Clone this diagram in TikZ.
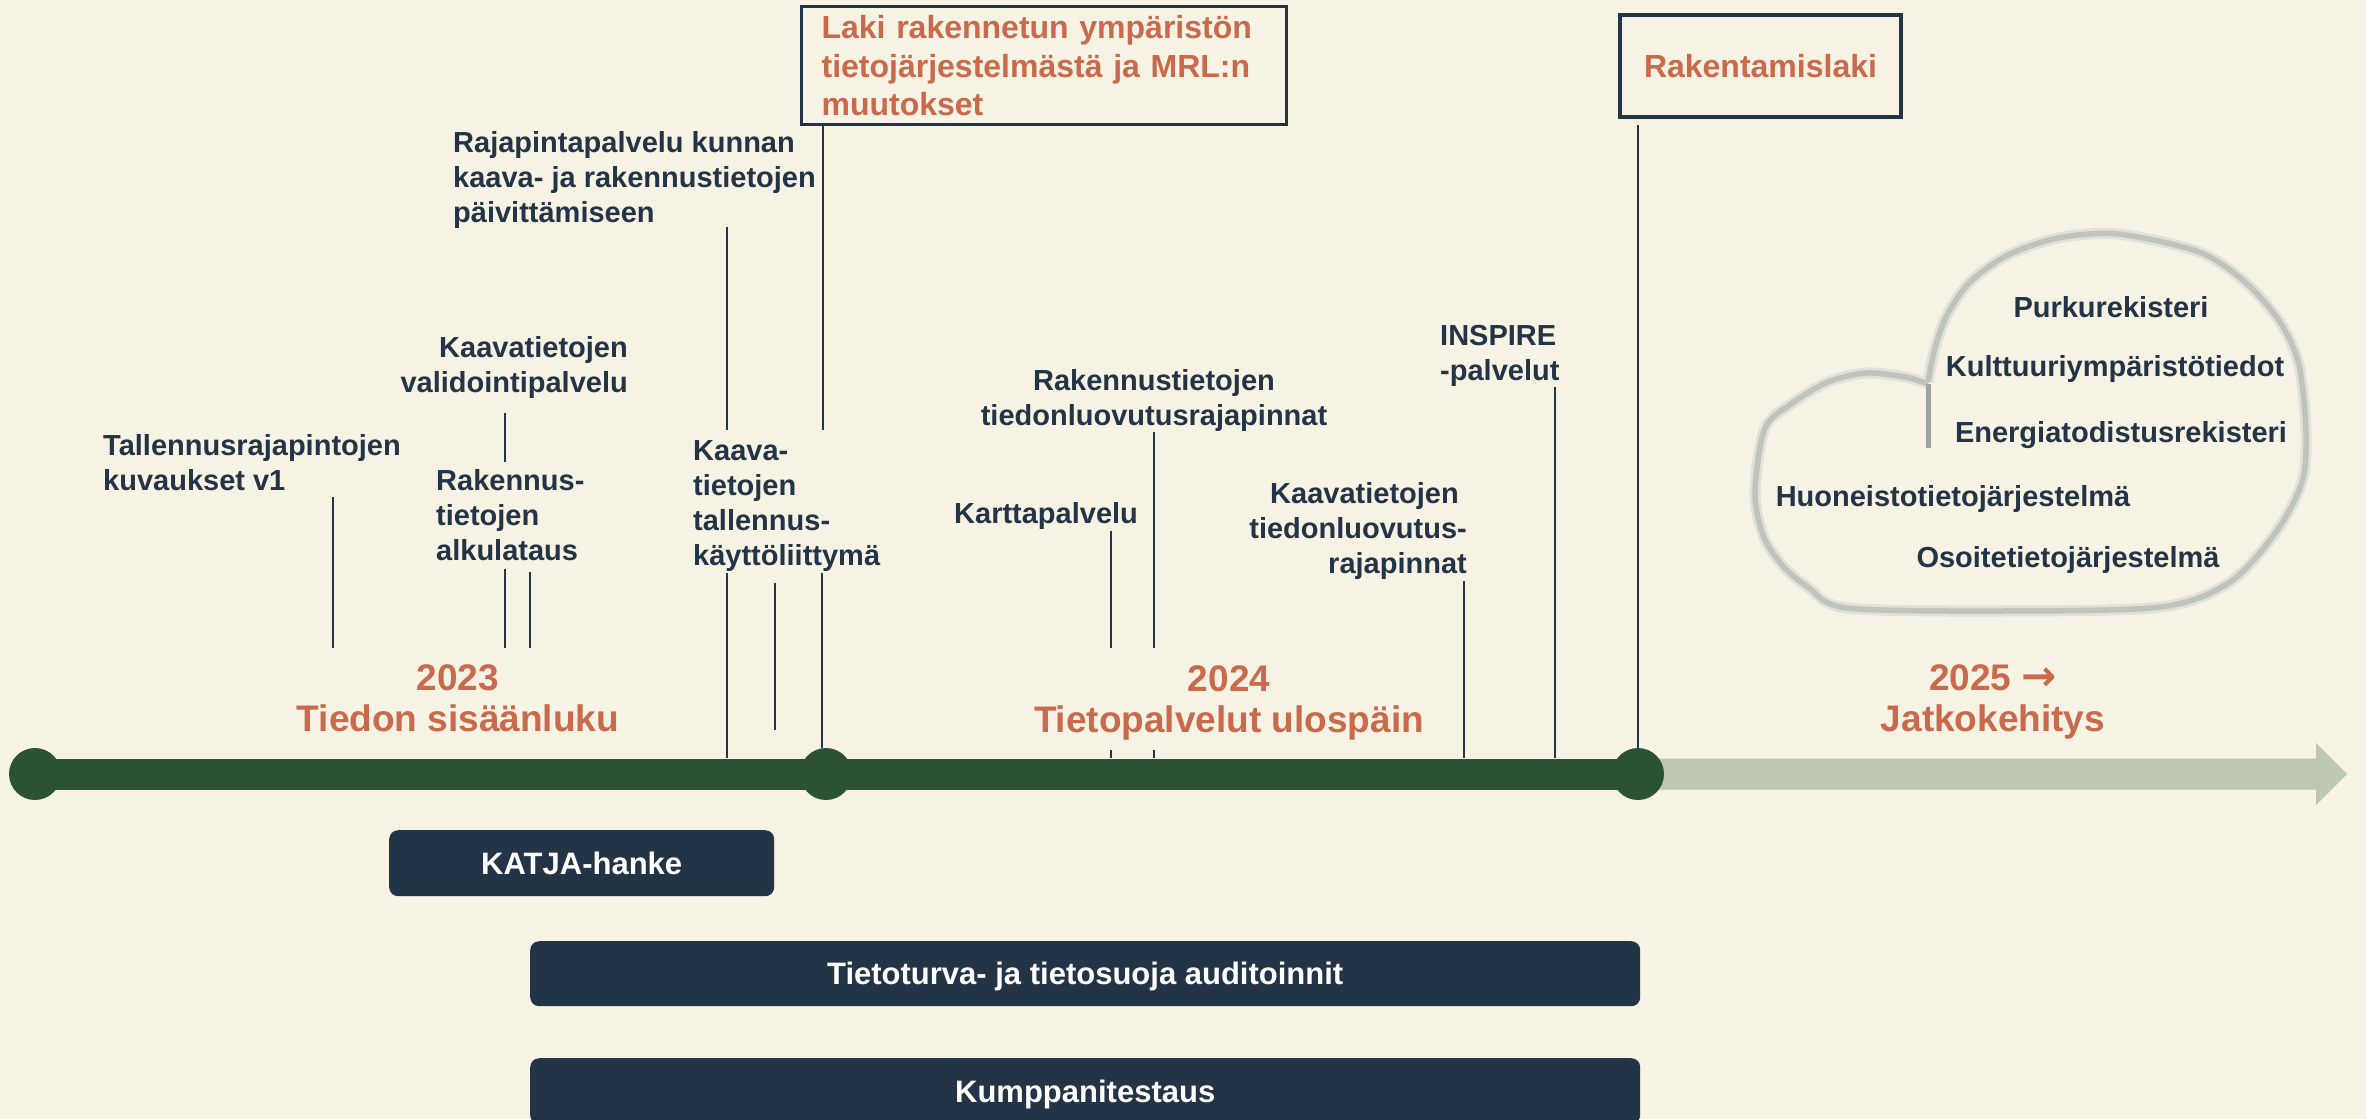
\documentclass[tikz,border=0pt]{standalone}
\usepackage{fontspec}
\setmainfont{Liberation Sans}
\newfontfamily\arrowfont{DejaVu Sans}
\usetikzlibrary{calc}
\definecolor{bg}{HTML}{F6F2E4}
\definecolor{navy}{HTML}{243447}
\definecolor{rust}{HTML}{C86A4B}
\definecolor{forest}{HTML}{2C5234}
\definecolor{sage}{HTML}{BEC7B4}
\definecolor{cloudcore}{HTML}{C0C3BB}
\definecolor{cloudhalo}{HTML}{E0E1D7}
\definecolor{clouddark}{HTML}{9CA3A0}
\begin{document}
\begin{tikzpicture}[x=1pt,y=-1pt,
  lbl/.style={font=\bfseries\fontsize{29}{35}\selectfont, text=navy, inner sep=0pt},
  yr/.style={font=\bfseries\fontsize{37}{41}\selectfont, text=rust, inner sep=0pt, align=center},
  lawbox/.style={draw=navy, line width=3.2pt, fill=bg},
  lawtxt/.style={font=\bfseries\fontsize{32}{38.5}\selectfont, text=rust},
  barbox/.style={fill=navy, rounded corners=9pt, inner sep=0pt, text height=22.2pt, text depth=0pt,
                 font=\bfseries\fontsize{31}{36}\selectfont, text=white},
  tick/.style={draw=navy, line width=2.8pt},
  dot/.style={circle, fill=forest, minimum size=52pt, inner sep=0pt},
]
\useasboundingbox (0,0) rectangle (2366,1119);
\fill[bg] (0,0) rectangle (2366,1119);

% ---------- timeline ----------
\coordinate (t0) at (35,774);
\coordinate (t1) at (826,774);
\coordinate (t2) at (1638,774);
\coordinate (tip) at (2347,774);
\fill[sage] (t2) ++(0,-15.5) -- (2316,758.5) -- (2316,743) -- (tip) -- (2316,805) -- (2316,789.5) -- ($(t2)+(0,15.5)$) -- cycle;
\draw[forest, line width=31pt] (t0) -- (t2);
\node[dot] (d0) at (t0) {};
\node[dot] (d1) at (t1) {};
\node[dot] (d2) at (t2) {};

% reference heights
\coordinate (yA) at (0,648);
\coordinate (yB) at (0,758);
\coordinate (yT) at (0,750);

% ---------- labels (anchor = baseline of last line) ----------
\node[lbl, align=left, anchor=base west] (tallennus) at (103,490.5) {Tallennusrajapintojen\\kuvaukset v1};
\node[lbl, align=right, anchor=base east] (validointi) at (628,392.5) {Kaavatietojen\\validointipalvelu};
\node[lbl, align=left, anchor=base west] (alkulataus) at (436,560.5) {Rakennus-\\tietojen\\alkulataus};
\node[lbl, align=left, anchor=base west] (rajapinta) at (453,222.5) {Rajapintapalvelu kunnan\\kaava- ja rakennustietojen\\päivittämiseen};
\node[lbl, align=left, anchor=base west] (kaavakl) at (693,565.5) {Kaava-\\tietojen\\tallennus-\\käyttöliittymä};
\node[lbl, anchor=base west] (kartta) at (954,523.5) {Karttapalvelu};
\node[lbl, align=center, anchor=base] (rakluov) at (1154,425.5) {Rakennustietojen\\tiedonluovutusrajapinnat};
\node[lbl, align=right, anchor=base east] (kaavaluov) at (1467,573.5) {Kaavatietojen\kern8pt\\tiedonluovutus-\\rajapinnat};
\node[lbl, align=left, anchor=base west] (inspire) at (1440,380.5) {INSPIRE\\-palvelut};

% law boxes
\node[lawbox, lawtxt, text width=445pt, align=left, inner xsep=20pt, inner ysep=0pt,
      minimum height=118pt, anchor=north west] (laki) at (800,5)
      {Laki rakennetun ympäristön\\tietojärjestelmästä ja MRL:n\\muutokset};
\node[lawbox, lawtxt, inner sep=0pt, minimum width=281pt, minimum height=102pt,
      text height=23pt, text depth=0pt] (rakl) at (1760.5,66) {Rakentamislaki};

% ---------- vertical connectors ----------
\coordinate (pa) at (333,497);  \draw[tick] (pa) -- (pa |- yA);
\coordinate (pb) at (505,413);  \draw[tick] (pb) -- (505,462) coordinate (pb2);
\coordinate (pc) at (505,569);  \draw[tick] (pc) -- (pc |- yA);
\coordinate (pd) at (530,572);  \draw[tick] (pd) -- (pd |- yA);
\coordinate (pe) at (727,227);  \draw[tick] (pe) -- (727,430) coordinate (pe2);
\coordinate (pf) at (823,125);  \draw[tick] (pf) -- (823,430) coordinate (pf2);
\coordinate (pg) at (727,573);  \draw[tick] (pg) -- (pg |- yB);
\coordinate (ph) at (775,583);  \draw[tick] (ph) -- (775,730) coordinate (ph2);
\coordinate (pi) at (822,573);  \draw[tick] (pi) -- (pi |- d1.north);
\coordinate (pj) at (1111,531); \draw[tick] (pj) -- (pj |- yA);
\draw[tick] (pj |- yT) -- (pj |- yB);
\coordinate (pk) at (1154,432); \draw[tick] (pk) -- (pk |- yA);
\draw[tick] (pk |- yT) -- (pk |- yB);
\coordinate (pl) at (1464,581); \draw[tick] (pl) -- (pl |- yB);
\coordinate (pm) at (1555,387); \draw[tick] (pm) -- (pm |- yB);
\coordinate (pn) at (1638,125); \draw[tick] (pn) -- (pn |- d2.north);

% ---------- year labels ----------
\node[yr, anchor=base] (y23) at (458,731) {2023\\Tiedon sisäänluku};
\node[yr, anchor=base] (y24) at (1229,732) {2024\\Tietopalvelut ulospäin};
\node[yr, anchor=base] (y25) at (1993,731) {2025 {\arrowfont\fontsize{42}{41}\selectfont →}\\Jatkokehitys};

% ---------- cloud ----------
\def\cloudpts{(1928,382) (1935,348) (1947,315) (1970,282) (2008,255) (2058,238) (2118,234)
  (2199,252) (2245,282) (2280,322) (2299,365) (2306,432) (2302,482) (2276,532) (2230,582)
  (2161,607) (2000,611) (1847,608) (1809,588) (1782,565) (1763,535) (1755,492) (1765,428)
  (1794,402) (1828,382) (1866,373) (1905,377) (1928,384)}
\draw[cloudhalo, line width=11pt, line join=round] plot[smooth, tension=0.5] coordinates {\cloudpts};
\draw[cloudcore, line width=5.5pt, line join=round] plot[smooth, tension=0.5] coordinates {\cloudpts};
\coordinate (cj) at (1928,384);
\draw[clouddark, line width=5pt] (cj) -- (1928,448) coordinate (cj2);

\node[lbl, anchor=base] (c1) at (2111,317) {Purkurekisteri};
\node[lbl, anchor=base] (c2) at (2115,376) {Kulttuuriympäristötiedot};
\node[lbl, anchor=base] (c3) at (2121,442.5) {Energiatodistusrekisteri};
\node[lbl, anchor=base] (c4) at (1953,506.5) {Huoneistotietojärjestelmä};
\node[lbl, anchor=base] (c5) at (2068,567.5) {Osoitetietojärjestelmä};

% ---------- bottom bars ----------
\node[barbox, minimum width=385pt, minimum height=66pt, anchor=north west] (katja) at (389,830) {KATJA-hanke};
\node[barbox, minimum width=1110pt, minimum height=65pt, anchor=north west] (audit) at (530,941) {Tietoturva- ja tietosuoja auditoinnit};
\node[barbox, minimum width=1110pt, minimum height=66pt, anchor=north west] (kumppani) at (530,1058) {Kumppanitestaus};
\end{tikzpicture}
\end{document}
